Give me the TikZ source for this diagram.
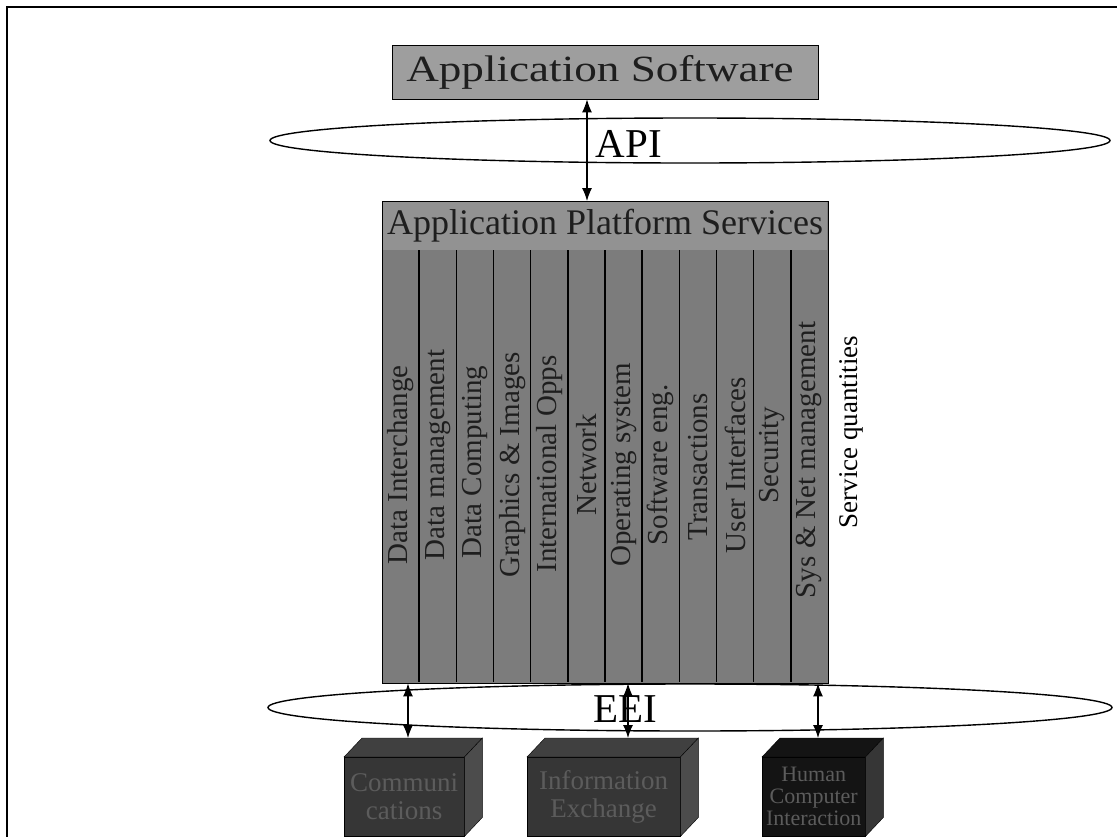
\documentclass[tikz,border=0pt]{standalone}
\usepackage{fontspec}
\setmainfont{Liberation Serif}
\usetikzlibrary{arrows.meta,shapes.geometric}
\definecolor{swgray}{HTML}{9E9E9E}
\definecolor{hdgray}{HTML}{929292}
\definecolor{colgray}{HTML}{7C7C7C}
\definecolor{coltext}{HTML}{1E1E1E}
\definecolor{boxfr}{HTML}{363636}
\definecolor{boxtp}{HTML}{404040}
\definecolor{boxsd}{HTML}{4C4C4C}
\definecolor{boxfrdk}{HTML}{141414}
\definecolor{boxtxt}{HTML}{5C5C5C}
\begin{document}
\begin{tikzpicture}[x=1pt,y=-1pt,
  dbl/.style={{Latex[length=13pt,width=10pt]}-{Latex[length=13pt,width=10pt]}, line width=1.1pt},
  iface/.style={ellipse, draw, line width=1.4pt, fill=white, inner sep=0pt},
  bigtext/.style={font=\fontsize{37}{39}\selectfont, text=coltext, inner sep=0pt},
  collabel/.style={rotate=90, font=\fontsize{29}{31}\selectfont, text=coltext, inner sep=0pt},
  boxfront/.style={draw=black, line width=0.4pt, fill=boxfr, inner sep=0pt, anchor=north west, align=center, text=boxtxt, font=\fontsize{27}{28}\selectfont},
  boxtop/.style={fill=boxtp, draw=black, line width=0.4pt},
  boxside/.style={fill=boxsd, draw=black, line width=0.4pt}]
\useasboundingbox (0,0) rectangle (1117,836);
\fill[white] (0,0) rectangle (1117,836);
% frame
\draw[line width=2pt] (7,840) -- (7,7) -- (1120,7);

% application software
\node[draw, fill=swgray, minimum width=426, minimum height=54, inner sep=0pt, anchor=north west] (appsw) at (392,45) {};
\node[bigtext] (appswt) at (600,72) {\scalebox{1.22}[1]{Application Software}};

% API ellipse
\node[iface, minimum width=840, minimum height=45] (api) at (690,140.5) {};
\node[font=\fontsize{41}{43}\selectfont, inner sep=0pt] (apit) at (629,144) {API};

% platform
\node[draw, fill=colgray, minimum width=446, minimum height=482, inner sep=0pt, anchor=north west] (aps) at (382,201) {};
\fill[hdgray] (383,202) rectangle (827,250);
\node[bigtext, font=\fontsize{36}{38}\selectfont] (apst) at (605,226) {Application Platform Services};
\foreach \i in {1,...,11}{
  \draw[line width=1.5pt] (382+\i*37.17,250) -- (382+\i*37.17,682);
}
\node[collabel] (c1) at (382+37.17*0.5,465) {Data Interchange};
\node[collabel] (c2) at (382+37.17*1.5,455) {Data management};
\node[collabel] (c3) at (382+37.17*2.5,462) {Data Computing};
\node[collabel] (c4) at (382+37.17*3.5,465) {Graphics \& Images};
\node[collabel] (c5) at (382+37.17*4.5,464) {International Opps};
\node[collabel] (c6) at (382+37.17*5.5,465) {Network};
\node[collabel] (c7) at (382+37.17*6.5,465) {Operating system};
\node[collabel] (c8) at (382+37.17*7.5,465) {Software eng.};
\node[collabel] (c9) at (382+37.17*8.5,467) {Transactions};
\node[collabel] (c10) at (382+37.17*9.5,465) {User Interfaces};
\node[collabel] (c11) at (382+37.17*10.5,455) {Security};
\node[collabel] (c12) at (382+37.17*11.5,460) {Sys \& Net management};

\node[rotate=90, font=\fontsize{27}{29}\selectfont, inner sep=0pt] (sq) at (851,432) {Service quantities};

% EEI ellipse
\node[iface, minimum width=844, minimum height=47] (eei) at (690,707.5) {};
\node[font=\fontsize{41}{43}\selectfont, inner sep=0pt] (eeit) at (625,709) {EEI};

% bottom boxes
\node[boxfront, minimum width=120, minimum height=79] (b1) at (344,757) {Communi\\cations};
\fill[boxtop] (b1.north west) -- ++(18,-19) -- ([shift={(18,-19)}]b1.north east) -- (b1.north east) -- cycle;
\fill[boxside] (b1.north east) -- ++(18,-19) -- ([shift={(18,-19)}]b1.south east) -- (b1.south east) -- cycle;

\node[boxfront, minimum width=153, minimum height=79] (b2) at (527,757) {Information\\Exchange};
\fill[boxtop] (b2.north west) -- ++(18,-19) -- ([shift={(18,-19)}]b2.north east) -- (b2.north east) -- cycle;
\fill[boxside] (b2.north east) -- ++(18,-19) -- ([shift={(18,-19)}]b2.south east) -- (b2.south east) -- cycle;

\node[boxfront, fill=boxfrdk, minimum width=103, minimum height=79, font=\fontsize{22}{22}\selectfont] (b3) at (762,757) {Human\\Computer\\Interaction};
\fill[boxtop, fill=boxfrdk] (b3.north west) -- ++(18,-19) -- ([shift={(18,-19)}]b3.north east) -- (b3.north east) -- cycle;
\fill[boxside, fill=boxfr] (b3.north east) -- ++(18,-19) -- ([shift={(18,-19)}]b3.south east) -- (b3.south east) -- cycle;

% arrows
\coordinate (ax) at (587,0);
\draw[dbl] (appsw.south -| ax) -- (aps.north -| ax);
\coordinate (e1) at (408,0);
\coordinate (e2) at (628,0);
\coordinate (e3) at (818,0);
\coordinate (b1t) at ([yshift=19pt]b1.north);
\coordinate (b2t) at ([yshift=19pt]b2.north);
\coordinate (b3t) at ([yshift=19pt]b3.north);
\draw[dbl] (aps.south -| e1) -- (b1t -| e1);
\draw[dbl] (aps.south -| e2) -- (b2t -| e2);
\draw[dbl] (aps.south -| e3) -- (b3t -| e3);
\end{tikzpicture}
\end{document}
